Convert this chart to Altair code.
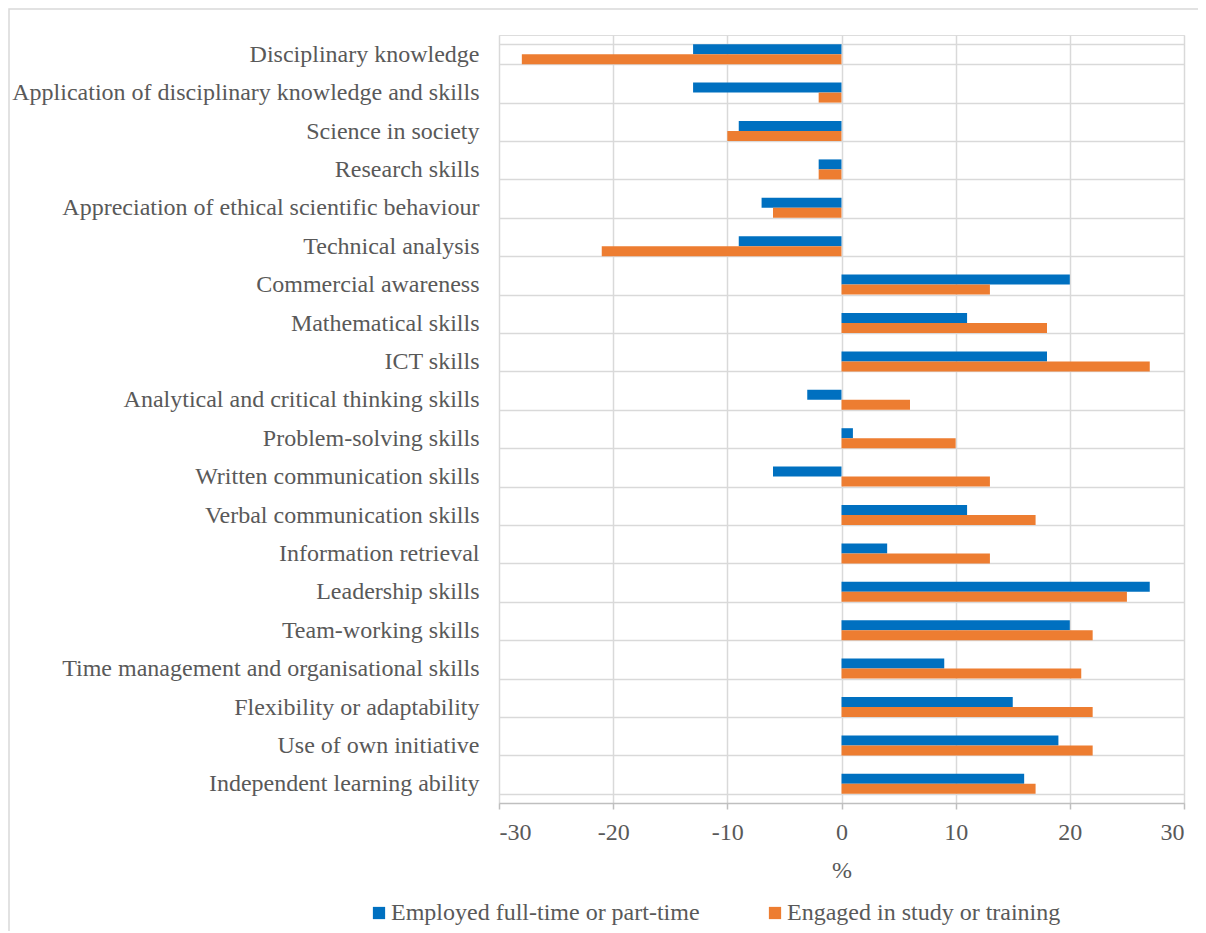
import altair as alt
import pandas as pd

categories = [
    "Disciplinary knowledge",
    "Application of disciplinary knowledge and skills",
    "Science in society",
    "Research skills",
    "Appreciation of ethical scientific behaviour",
    "Technical analysis",
    "Commercial awareness",
    "Mathematical skills",
    "ICT skills",
    "Analytical and critical thinking skills",
    "Problem-solving skills",
    "Written communication skills",
    "Verbal communication skills",
    "Information retrieval",
    "Leadership skills",
    "Team-working skills",
    "Time management and organisational skills",
    "Flexibility or adaptability",
    "Use of own initiative",
    "Independent learning ability",
]
employed = [-13, -13, -9, -2, -7, -9, 20, 11, 18, -3, 1, -6, 11, 4, 27, 20, 9, 15, 19, 16]
study = [-28, -2, -10, -2, -6, -21, 13, 18, 27, 6, 10, 13, 17, 13, 25, 22, 21, 22, 22, 17]
series = ["Employed full-time or part-time", "Engaged in study or training"]
colors = ["#0070C0", "#ED7D31"]
x_ticks = [-30, -20, -10, 0, 10, 20, 30]

rows = []
for c, e, s in zip(categories, employed, study):
    rows.append({"skill": c, "series": series[0], "value": e})
    rows.append({"skill": c, "series": series[1], "value": s})
df = pd.DataFrame(rows)

W, H = 685, 768
FONT = "Liberation Serif"
TXT = "#595959"
FS = 24

bars = alt.Chart(df).mark_bar(size=10).encode(
    y=alt.Y(
        "skill:N",
        sort=categories,
        scale=alt.Scale(paddingInner=0.48, paddingOuter=0.24),
        axis=alt.Axis(
            title=None, domain=False, ticks=False, grid=True, tickBand="extent",
            gridColor="#d9d9d9", gridWidth=1.5, labelFont=FONT, labelFontSize=FS,
            labelColor=TXT, labelPadding=20, labelLimit=600,
        ),
    ),
    yOffset=alt.YOffset("series:N", sort=series, scale=alt.Scale(paddingInner=0)),
    x=alt.X(
        "value:Q",
        scale=alt.Scale(domain=[-30, 30], nice=False),
        axis=alt.Axis(
            title="%", values=x_ticks, labelExpr="'' + datum.value",
            grid=True, gridColor="#d9d9d9", gridWidth=1.5,
            domainColor="#bfbfbf", domainWidth=1.5, tickColor="#bfbfbf", tickSize=6,
            tickWidth=1.5, labelFont=FONT, labelFontSize=FS, labelColor=TXT,
            labelPadding=11, titleFont=FONT, titleFontSize=FS, titleColor=TXT,
            titleFontWeight="normal", titlePadding=14,
        ),
    ),
    color=alt.Color(
        "series:N",
        sort=series,
        scale=alt.Scale(domain=series, range=colors),
        legend=alt.Legend(
            title=None, orient="none", legendX=-132, legendY=866, direction="horizontal",
            symbolType="square", symbolSize=150, symbolStrokeWidth=0,
            labelFont=FONT, labelFontSize=FS, labelColor=TXT, columnPadding=63,
            labelOffset=0, labelLimit=600,
        ),
    ),
)

frame = alt.Chart(pd.DataFrame({"a": [0]})).mark_rect(
    filled=False, stroke="#d9d9d9", strokeWidth=1.5, clip=False
).encode(
    x=alt.value(-490), x2=alt.value(W + 60), y=alt.value(-26), y2=alt.value(H + 300)
)

chart = alt.layer(frame, bars).properties(
    width=W, height=H,
    autosize=alt.AutoSizeParams(type="none"),
    padding={"left": 491, "top": 27, "right": 14, "bottom": 128},
).configure_view(stroke=None).configure(background="white")

chart.save("out.html", embed_options={"renderer": "svg", "actions": False})
